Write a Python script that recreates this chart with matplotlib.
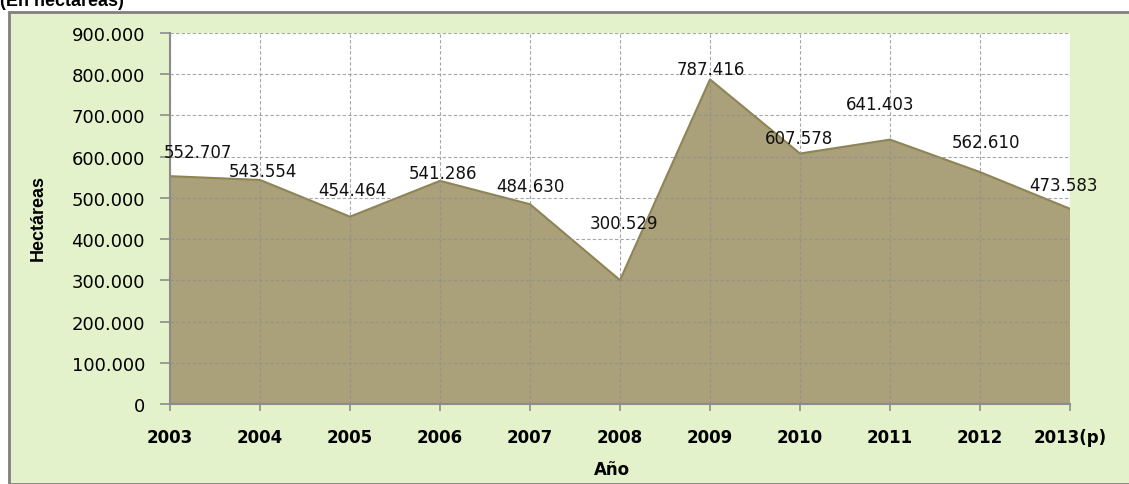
import matplotlib.pyplot as plt
import numpy as np
from matplotlib.patches import Rectangle
from matplotlib.ticker import FuncFormatter

# data
years = ['2003', '2004', '2005', '2006', '2007', '2008', '2009', '2010', '2011', '2012', '2013(p)']
hectares = [552707, 543554, 454464, 541286, 484630, 300529, 787416, 607578, 641403, 562610, 473583]
value_labels = ['552.707', '543.554', '454.464', '541.286', '484.630', '300.529',
                '787.416', '607.578', '641.403', '562.610', '473.583']

# label placement (pixels from the point), as Excel put them
label_dx = [28, 3, 2, 3, 0, 4, 1, -1, -10, 6, -7]
label_dy = [24, 9, 27, 8, 18, 57, 10, 16, 36, 30, 24]

W, H = 1129, 485
fig = plt.figure(figsize=(W / 100, H / 100), dpi=100)
fig.patch.set_facecolor('white')

# green chart panel with grey border
panel = Rectangle((9 / W, 0), 1.2, 1 - 13 / H, transform=fig.transFigure,
                  facecolor='#E3F2CB', edgecolor='#808080', linewidth=2, zorder=-5)
fig.patches.append(panel)

fig.text(0.0, 1 - 6 / H, '(En hectáreas)', fontsize=13, fontweight='bold',
         family='Liberation Sans', va='baseline', ha='left')

ax = fig.add_axes([170 / W, 1 - 405 / H, 900 / W, 371 / H])
ax.set_facecolor('white')

x = np.arange(len(years))
ax.fill_between(x, hectares, 0, facecolor='#AAA07A', edgecolor='none', zorder=1)
ax.plot(x, hectares, color='#8E8455', linewidth=1.5, zorder=2)

ax.set_xlim(0, len(years) - 1)
ax.set_ylim(0, 900000)
ax.set_yticks(np.arange(0, 900001, 100000))
ax.set_xticks(x)
ax.set_xticklabels(years)
ax.yaxis.set_major_formatter(FuncFormatter(lambda v, p: f'{int(v):,}'.replace(',', '.')))

ax.grid(True, color='#909090', linestyle=(0, (3, 2)), linewidth=0.8, alpha=0.8, zorder=3)
ax.set_axisbelow(False)

for side in ['top', 'right']:
    ax.spines[side].set_visible(False)
for side in ['left', 'bottom']:
    ax.spines[side].set_color('#8C8C8C')
    ax.spines[side].set_linewidth(1.5)
    ax.spines[side].set_zorder(4)

ax.tick_params(axis='y', length=7, color='#8C8C8C', width=1.2, pad=11, labelsize=13)
ax.tick_params(axis='x', length=5, color='#8C8C8C', width=1.2, pad=12, labelsize=12)
for t in ax.get_xticklabels():
    t.set_fontweight('bold')

for xi, yi, lab, dx, dy in zip(x, hectares, value_labels, label_dx, label_dy):
    ax.annotate(lab, (xi, yi), xytext=(dx, dy), textcoords='offset pixels',
                ha='center', va='center', fontsize=12, color='#111111', zorder=5,
                annotation_clip=False)

fig.text(612 / W, 1 - 470 / H, 'Año', fontsize=12, fontweight='bold',
         ha='center', va='center')
fig.text(38 / W, 1 - 218 / H, 'Hectáreas', fontsize=13, fontweight='bold',
         family='Liberation Sans',
         rotation=90, ha='center', va='center')

fig.savefig('out.png', dpi=100)
